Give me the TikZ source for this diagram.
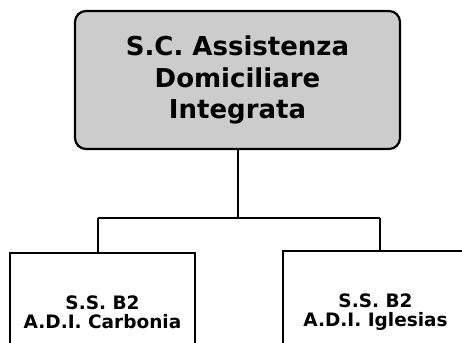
\documentclass[tikz,border=0pt]{standalone}
\usepackage{fontspec}
\setmainfont{DejaVu Sans}
\usetikzlibrary{positioning,calc}

\begin{document}
\begin{tikzpicture}[
        x=1pt, y=-1pt,
        head/.style={rectangle,draw,line width=2.2pt,rounded corners=11pt,fill=black!20,minimum width=325pt,minimum height=138pt,align=center,font=\fontsize{26}{31.5}\selectfont\bfseries},
        unit/.style={rectangle,draw,line width=1.8pt,inner sep=0pt,minimum width=185pt,minimum height=119pt,align=center,font=\fontsize{18.5}{19}\selectfont\bfseries},
        link/.style={line width=2pt}
    ]
        \clip (0,0) rectangle (462,342);
        \fill[white] (0,0) rectangle (462,342);

        \node[head] (top) at (237.5,80) {S.C. Assistenza\\Domiciliare\\Integrata};

        \node[unit] (carbonia) at (102.5,312.5) {S.S. B2\\A.D.I. Carbonia};
        \node[unit,minimum height=123pt] (iglesias) at (375.5,312.5) {S.S. B2\\A.D.I. Iglesias};

        \coordinate (busL) at (98,218);
        \coordinate (busR) at (380,218);

        \draw[link] (top.south) -- (top.south|-busL);
        \draw[link] (busL) -- (busR);
        \draw[link] (busL) -- (busL|-carbonia.north);
        \draw[link] (busR) -- (busR|-iglesias.north);
    \end{tikzpicture}
\end{document}
